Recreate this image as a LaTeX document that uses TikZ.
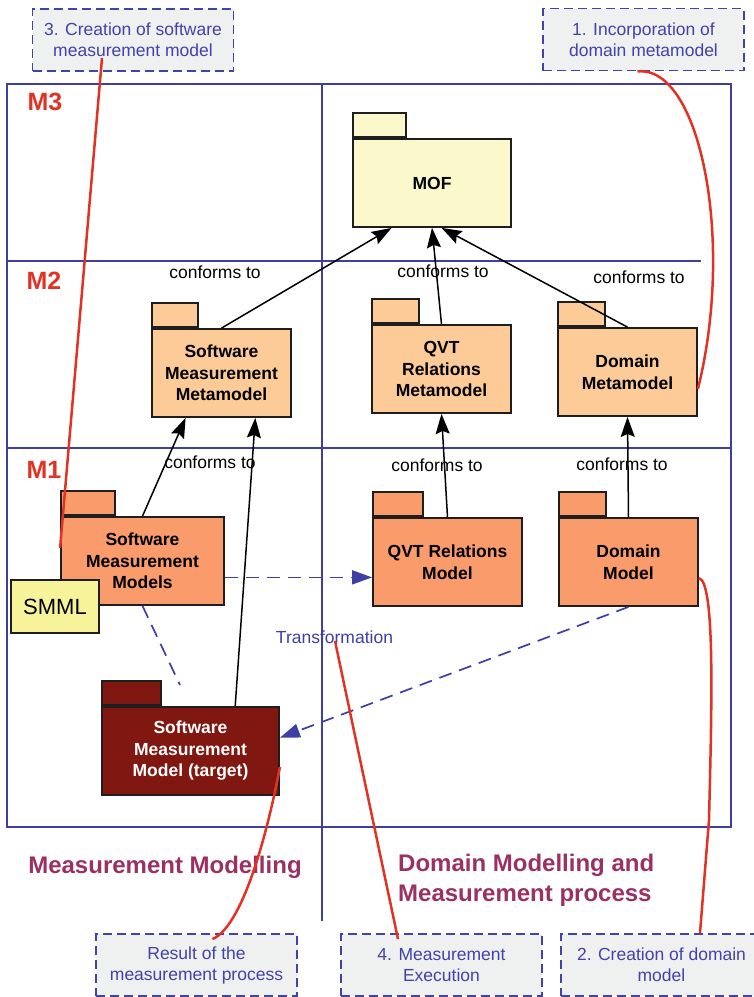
\documentclass[tikz,border=0pt]{standalone}
\usepackage{fontspec}
\setmainfont{Liberation Sans}
\usetikzlibrary{arrows.meta,calc}
\definecolor{frameblue}{RGB}{62,62,165}
\definecolor{calloutblue}{RGB}{66,66,170}
\definecolor{calloutfill}{RGB}{239,240,240}
\definecolor{redA}{RGB}{226,50,36}
\definecolor{plum}{RGB}{155,48,98}
\definecolor{mofyellow}{RGB}{251,249,204}
\definecolor{metaorange}{RGB}{252,203,151}
\definecolor{modelorange}{RGB}{249,155,106}
\definecolor{targetred}{RGB}{128,23,16}
\definecolor{smmlyellow}{RGB}{247,243,154}
\definecolor{pkgline}{RGB}{30,30,30}
\begin{document}
\begin{tikzpicture}[x=1pt,y=-1pt,
  pkg/.style={draw=pkgline, line width=1.8pt, font=\bfseries\fontsize{17.5}{21.5}\selectfont, align=center, inner sep=0pt, minimum height=88pt},
  pkgtab/.style={draw=pkgline, line width=1.8pt, inner sep=0pt, minimum height=24pt, anchor=south west},
  conf/.style={draw=black, line width=1.5pt, -{Stealth[length=20pt,width=14pt,inset=3pt]}},
  confl/.style={font=\fontsize{17.5}{20}\selectfont, inner sep=0pt},
  trans/.style={draw=frameblue, line width=1.7pt, dash pattern=on 13pt off 8pt},
  transarrow/.style={trans, -{Triangle[length=20pt,width=14pt]}},
  callout/.style={draw=calloutblue, dash pattern=on 9pt off 5pt, line width=1.8pt, fill=calloutfill, text=calloutblue, minimum width=201pt, minimum height=62pt, align=center, font=\fontsize{17.5}{21}\selectfont, inner sep=0pt},
  redline/.style={draw=redA, line width=2.5pt},
  mlabel/.style={text=redA, font=\bfseries\fontsize{25}{30}\selectfont, inner sep=0pt},
  biglabel/.style={text=plum, font=\bfseries\fontsize{24}{30}\selectfont, inner sep=0pt},
  framel/.style={draw=frameblue, line width=2.8pt}
]
\useasboundingbox (0,0) rectangle (754,997);
% frame
\draw[framel] (7,84) rectangle (731,827);
\draw[framel] (7,261) -- (701,261);
\draw[framel] (7,448) -- (731,448);
\draw[framel] (322,84) -- (322,921);
% level labels
\node[mlabel] (m3) at (45,102) {M3};
\node[mlabel] (m2) at (44,281) {M2};
\node[mlabel] (m1) at (44,470) {M1};
% packages
\node[pkg, fill=mofyellow, minimum width=158pt] (mof) at (432,183) {MOF};
\node[pkgtab, fill=mofyellow, minimum width=53pt] (moftab) at (mof.north west) {};
\node[pkg, fill=metaorange, minimum width=139pt] (smmeta) at (221.5,373) {Software\\Measurement\\Metamodel};
\node[pkgtab, fill=metaorange, minimum width=46pt] (smmetatab) at (smmeta.north west) {};
\node[pkg, fill=metaorange, minimum width=139pt] (qvtmeta) at (441.5,369) {QVT\\Relations\\Metamodel};
\node[pkgtab, fill=metaorange, minimum width=47pt] (qvtmetatab) at (qvtmeta.north west) {};
\node[pkg, fill=metaorange, minimum width=139pt] (dommeta) at (627.5,372) {Domain\\Metamodel};
\node[pkgtab, fill=metaorange, minimum width=47pt] (dommetatab) at (dommeta.north west) {};
\node[pkg, fill=modelorange, minimum width=163pt] (smmodels) at (142.5,561) {Software\\Measurement\\Models};
\node[pkgtab, fill=modelorange, minimum width=54pt] (smmodelstab) at (smmodels.north west) {};
\node[pkg, fill=modelorange, minimum width=149pt] (qvtmodel) at (447.5,562) {QVT Relations\\Model};
\node[pkgtab, fill=modelorange, minimum width=50pt] (qvtmodeltab) at (qvtmodel.north west) {};
\node[pkg, fill=modelorange, minimum width=139pt] (dommodel) at (628.5,562) {Domain\\Model};
\node[pkgtab, fill=modelorange, minimum width=47pt] (dommodeltab) at (dommodel.north west) {};
\node[pkg, fill=targetred, text=white, minimum width=177pt] (target) at (190.5,751) {Software\\Measurement\\Model (target)};
\node[pkgtab, fill=targetred, minimum width=59pt] (targettab) at (target.north west) {};
\node[draw=pkgline, line width=1.8pt, fill=smmlyellow, minimum width=88pt, minimum height=53pt, inner sep=0pt, font=\fontsize{22}{26}\selectfont] (smml) at (55,606.5) {SMML};
% conforms to labels
\node[confl] (cf1) at (215,272) {conforms to};
\node[confl] (cf2) at (443,271) {conforms to};
\node[confl] (cf3) at (639,277) {conforms to};
\node[confl] (cf4) at (210,462) {conforms to};
\node[confl] (cf5) at (437,465) {conforms to};
\node[confl] (cf6) at (622,464) {conforms to};
% conforms arrows
\draw[conf] (smmeta.north) -- ($(mof.south west)!0.247!(mof.south east)$);
\draw[conf] (qvtmeta.north) -- (mof.south);
\draw[conf] (dommeta.north) -- ($(mof.south west)!0.56!(mof.south east)$);
\draw[conf] (smmodels.north) -- ($(smmeta.south west)!0.245!(smmeta.south east)$);
\draw[conf] ($(target.north west)!0.75!(target.north east)$) -- ($(smmeta.south west)!0.74!(smmeta.south east)$);
\draw[conf] (qvtmodel.north) -- (qvtmeta.south);
\draw[conf] (dommodel.north) -- (dommeta.south);
% transformation dashed lines
\coordinate (tstart) at ($(smmodels.south east)!0.318!(smmodels.north east)$);
\draw[transarrow] (tstart) -- (tstart -| qvtmodel.west);
\coordinate (dashend) at (180,685);
\draw[trans] (smmodels.south) -- (dashend);
\draw[transarrow] (dommodel.south) -- ($(target.south east)!0.648!(target.north east)$);
\node[text=frameblue, font=\fontsize{17.5}{20}\selectfont, inner sep=0pt] (transl) at (334.5,637) {Transformation};
% bottom labels
\node[biglabel] (mm) at (165,867) {Measurement Modelling};
\node[biglabel, align=left, anchor=west] (dm) at (398,880) {Domain Modelling and\\Measurement process};
% callouts
\node[callout] (c3) at (133,40) {3. Creation of software\\measurement model};
\node[callout] (c1) at (643.5,39.5) {1. Incorporation of\\domain metamodel};
\node[callout] (cres) at (196.5,965) {Result of the\\measurement process};
\node[callout] (c4) at (441.5,965) {4. Measurement\\Execution};
\node[callout] (c2) at (661.5,965) {2. Creation of domain\\model};
% red lines
\draw[redline] ($(c3.center)+(-31,18)$) -- ($(smmodels.west)+(0,-13)$);
\draw[redline] ($(c1.south)+(-6,0)$) .. controls (700,65) and (735,240) .. ($(dommeta.east)+(0,17)$);
\draw[redline] ($(dommodel.east)+(0,16)$) .. controls (715,582) and (712,700) .. (709,820) -- ($(c2.north)+(38.5,0)$);
\draw[redline] ($(transl.center)+(0.5,4)$) -- ($(c4.north)+(-43.5,6)$);
\draw[redline] ($(target.east)+(0,16)$) .. controls (270,820) and (245,925) .. ($(cres.north)+(16,6)$);
\end{tikzpicture}
\end{document}
